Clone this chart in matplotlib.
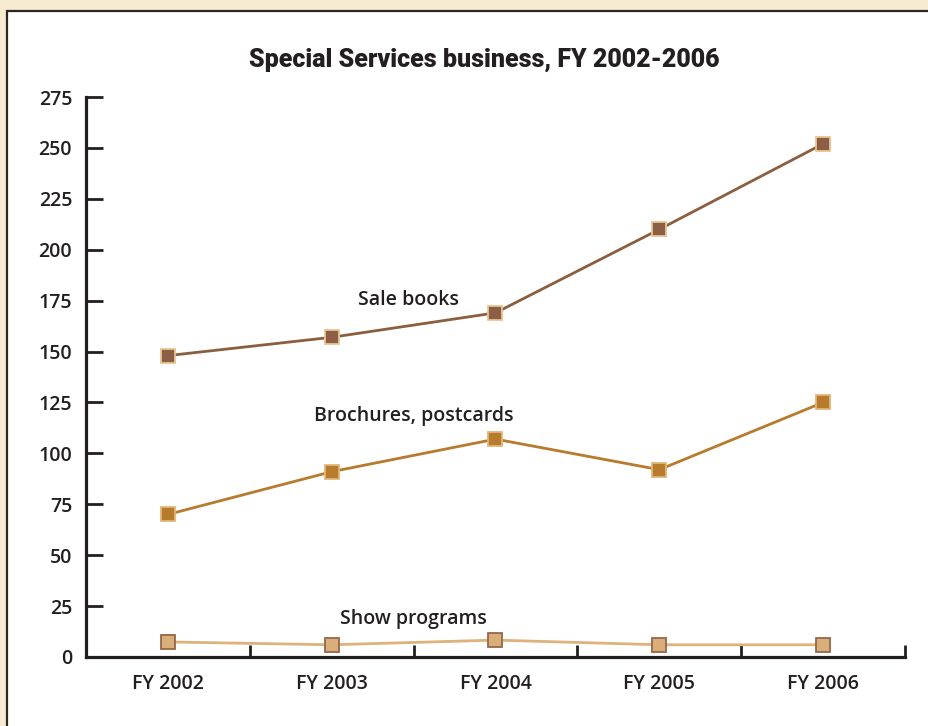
import matplotlib.pyplot as plt
from matplotlib.patches import Rectangle

years = ['FY 2002', 'FY 2003', 'FY 2004', 'FY 2005', 'FY 2006']
sale_books = [148, 157, 169, 210, 252]
brochures = [70, 91, 107, 92, 125]
show_programs = [7.4, 6, 8.3, 6, 6]
y_ticks = [0, 25, 50, 75, 100, 125, 150, 175, 200, 225, 250, 275]

parchment = '#F6EBD1'
sale_line, sale_fill, sale_edge = '#8B5E3F', '#8B5E45', '#E9C593'
broch_line, broch_fill, broch_edge = '#B87A2C', '#B87A2C', '#E2B678'
show_line, show_fill, show_edge = '#DDB27C', '#D9AE78', '#95674A'
ink = '#231f20'
fam = ['Open Sans', 'DejaVu Sans']
weight = 'semibold'

W, H = 929, 726
fig = plt.figure(figsize=(W / 100, H / 100), dpi=100, facecolor=parchment)

# white panel with dark border, kept under the axes
fig.patches.append(Rectangle((7 / W, -0.1), 1.2, 1 - 11 / H + 0.1,
                             transform=fig.transFigure, facecolor='white',
                             edgecolor='#2a2622', linewidth=1.6, zorder=-5))

ax = fig.add_axes([86 / W, 1 - 657 / H, (905 - 86) / W, (657 - 97) / H])
ax.set_facecolor('none')

x = range(len(years))
series = [(sale_books, sale_line, sale_fill, sale_edge),
          (brochures, broch_line, broch_fill, broch_edge),
          (show_programs, show_line, show_fill, show_edge)]
for vals, lc, fc, ec in series:
    ax.plot(x, vals, color=lc, linewidth=2.0, marker='s', markersize=10.5,
            markerfacecolor=fc, markeredgecolor=ec, markeredgewidth=1.3,
            clip_on=False, zorder=3)

label_font = dict(family=fam, fontsize=14, fontweight=weight, color=ink,
                  ha='center', va='center')
ax.text(1.47, 175.5, 'Sale books', **label_font)
ax.text(1.5, 118.5, 'Brochures, postcards', **label_font)
ax.text(1.5, 18.5, 'Show programs', **label_font)

ax.set_xlim(-0.5, 4.5)
ax.set_ylim(0, 275)
for s in ['top', 'right']:
    ax.spines[s].set_visible(False)
for s in ['left', 'bottom']:
    ax.spines[s].set_linewidth(2.3)
    ax.spines[s].set_color(ink)

ax.set_yticks(y_ticks)
ax.tick_params(axis='y', direction='in', length=12, width=2, color=ink,
               pad=10, labelsize=14, labelcolor=ink)
ax.set_xticks(list(x))
ax.set_xticklabels(years)
ax.set_xticks([i + 0.5 for i in x], minor=True)
ax.tick_params(axis='x', which='major', length=0, pad=12, labelsize=14,
               labelcolor=ink)
ax.tick_params(axis='x', which='minor', direction='in', length=9, width=2,
               color=ink)
for lbl in ax.get_xticklabels() + ax.get_yticklabels():
    lbl.set_family(fam)
    lbl.set_fontweight(weight)

fig.text(484 / W, 1 - 60 / H, 'Special Services business, FY 2002-2006',
         ha='center', va='center', fontsize=18, fontweight='black',
         family=['Roboto', 'DejaVu Sans'], color=ink)

fig.savefig('out.png', dpi=100, facecolor=parchment)
